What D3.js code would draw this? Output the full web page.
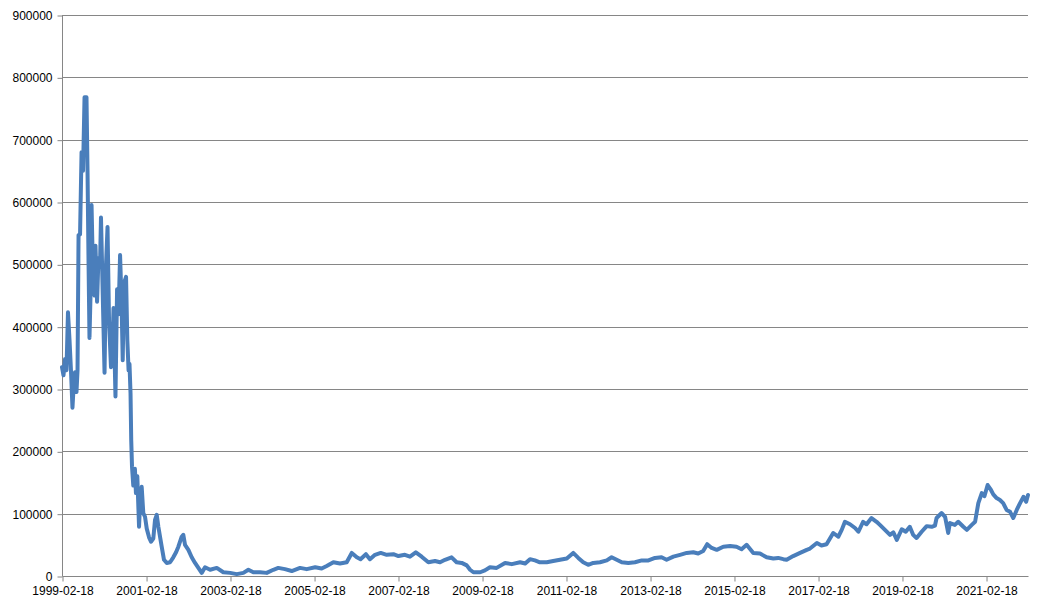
<!DOCTYPE html>
<html>
<head>
<meta charset="utf-8">
<script src="https://cdn.jsdelivr.net/npm/d3@7"></script>
<style>
  html, body { margin: 0; padding: 0; background: #fff; }
  svg { display: block; }
</style>
</head>
<body>
<svg id="chart" width="1044" height="610"></svg>
<script>
const dates = [
  "1999-02-18","1999-03-03","1999-03-16","1999-03-29","1999-04-11","1999-04-24","1999-05-07","1999-05-20","1999-05-29","1999-06-11",
  "1999-06-24","1999-07-03","1999-07-12","1999-07-25","1999-08-07","1999-08-20","1999-09-02","1999-09-19","1999-09-28","1999-10-07",
  "1999-10-15","1999-10-24","1999-11-02","1999-11-15","1999-11-28","1999-12-06","1999-12-20","2000-01-01","2000-01-15","2000-01-23",
  "2000-02-10","2000-02-23","2000-03-07","2000-03-20","2000-04-02","2000-04-19","2000-04-28","2000-05-11","2000-05-28","2000-06-11",
  "2000-06-24","2000-07-07","2000-07-20","2000-07-30","2000-08-10","2000-08-28","2000-09-08","2000-09-19","2000-09-27","2000-10-06",
  "2000-10-12","2000-10-19","2000-10-30","2000-11-13","2000-11-22","2000-12-04","2000-12-19","2000-12-28","2001-01-11","2001-01-25",
  "2001-02-09","2001-02-24","2001-03-16","2001-04-02","2001-04-22","2001-05-07","2001-05-22","2001-06-05","2001-07-04","2001-07-24",
  "2001-08-17","2001-09-15","2001-10-13","2001-11-06","2001-11-26","2001-12-25","2002-01-08","2002-01-23","2002-02-21","2002-03-22",
  "2002-04-20","2002-05-19","2002-06-17","2002-07-16","2002-08-29","2002-10-26","2002-12-22","2003-02-19","2003-04-18","2003-06-14",
  "2003-07-28","2003-09-09","2003-11-06","2004-01-03","2004-03-01","2004-04-13","2004-06-10","2004-08-08","2004-10-19","2004-12-16",
  "2005-02-28","2005-04-25","2005-06-08","2005-08-05","2005-10-02","2005-11-29","2006-01-12","2006-02-25","2006-03-29","2006-05-15",
  "2006-06-19","2006-08-02","2006-09-21","2006-11-12","2007-01-09","2007-02-22","2007-04-19","2007-06-02","2007-07-23","2007-09-12",
  "2007-11-09","2008-01-06","2008-02-19","2008-04-02","2008-05-29","2008-07-12","2008-08-25","2008-10-08","2008-11-06","2008-12-05",
  "2009-02-02","2009-03-15","2009-04-28","2009-06-25","2009-09-06","2009-11-04","2010-01-15","2010-02-28","2010-04-11","2010-05-24",
  "2010-07-06","2010-09-04","2010-10-30","2010-12-28","2011-02-25","2011-04-22","2011-06-05","2011-07-18","2011-08-30","2011-10-13",
  "2011-12-11","2012-02-08","2012-03-21","2012-05-04","2012-06-17","2012-08-13","2012-10-10","2012-12-08","2013-02-04","2013-04-02",
  "2013-05-29","2013-07-12","2013-09-09","2013-11-06","2014-01-03","2014-03-01","2014-04-13","2014-05-26","2014-06-30","2014-08-08",
  "2014-09-21","2014-11-17","2015-01-15","2015-03-12","2015-04-25","2015-06-08","2015-08-05","2015-10-02","2015-11-29","2016-01-26",
  "2016-03-09","2016-04-22","2016-05-21","2016-07-17","2016-09-15","2016-11-12","2016-12-10","2017-02-08","2017-03-20","2017-05-03",
  "2017-06-30","2017-08-13","2017-09-12","2017-10-10","2017-11-23","2018-01-06","2018-02-04","2018-03-17","2018-04-16","2018-05-29",
  "2018-07-12","2018-08-10","2018-09-23","2018-11-06","2018-12-05","2019-01-04","2019-02-16","2019-03-23","2019-04-27","2019-05-26",
  "2019-06-25","2019-08-08","2019-09-21","2019-11-03","2019-12-02","2019-12-16","2020-01-29","2020-02-28","2020-03-26","2020-04-10",
  "2020-05-23","2020-06-21","2020-08-05","2020-09-04","2020-10-17","2020-11-15","2020-12-13","2021-01-12","2021-02-04","2021-03-04",
  "2021-04-02","2021-04-22","2021-05-21","2021-06-19","2021-07-17","2021-08-16","2021-09-15","2021-10-13","2021-11-12","2021-12-11",
  "2022-01-09","2022-02-02","2022-02-18"
];
const values = [
  335000,322000,348000,330000,423000,380000,330000,270000,300000,327000,
  295000,330000,547000,548000,680000,650000,768000,768000,650000,500000,
  382000,450000,595000,480000,450000,530000,440000,510000,500000,575000,
  430000,326000,500000,560000,410000,335000,340000,430000,288000,460000,
  420000,515000,440000,346000,470000,480000,379000,330000,340000,293000,
  218000,175000,145000,172000,133000,160000,79000,117000,143000,101000,
  95000,76000,62000,55000,60000,90000,98000,79000,47000,26000,
  21000,22000,30000,38000,47000,63000,66000,50000,42000,30000,
  21000,13000,5000,14000,10000,13000,6000,5000,3000,5000,
  10000,6000,6000,5000,10000,13000,11000,8000,13000,11000,
  14000,12000,16000,22000,20000,22000,37000,30000,27000,35000,
  27000,34000,37000,34000,35000,32000,34000,31000,38000,31000,
  22000,24000,22000,26000,30000,22000,21000,17000,10000,6000,
  6000,9000,14000,13000,21000,19000,22000,20000,27000,25000,
  22000,22000,24000,26000,28000,37000,29000,22000,18000,21000,
  22000,25000,30000,26000,22000,21000,22000,25000,25000,29000,
  30000,26000,31000,34000,37000,38000,36000,40000,51000,45000,
  42000,47000,48000,47000,43000,50000,37000,36000,30000,28000,
  29000,27000,26000,32000,37000,42000,44000,53000,49000,51000,
  69000,63000,74000,87000,83000,77000,71000,87000,83000,93000,
  87000,82000,74000,66000,70000,58000,75000,71000,79000,66000,
  61000,71000,80000,79000,81000,93000,101000,95000,69000,85000,
  82000,87000,79000,74000,82000,87000,117000,133000,128000,146000,
  138000,131000,125000,122000,117000,106000,103000,93000,106000,117000,
  127000,119000,130000
];
const xTickLabels = ["1999-02-18","2001-02-18","2003-02-18","2005-02-18","2007-02-18","2009-02-18",
                     "2011-02-18","2013-02-18","2015-02-18","2017-02-18","2019-02-18","2021-02-18"];
const yTicks = [0,100000,200000,300000,400000,500000,600000,700000,800000,900000];
const xDomain = ["1999-02-18","2022-02-18"];

const parse = d3.utcParse("%Y-%m-%d");
const data = dates.map((d, i) => ({ date: parse(d), value: values[i] }));

const margin = { left: 62, right: 1028, top: 15, bottom: 576 };
const svg = d3.select("#chart");

const x = d3.scaleUtc().domain(xDomain.map(parse)).range([margin.left, margin.right]);
const y = d3.scaleLinear().domain([0, 900000]).range([margin.bottom, margin.top]);

const gridColor = "#868686";
const font = "'Liberation Sans', Arial, sans-serif";

// gridlines
svg.append("g").selectAll("line").data(yTicks.filter(t => t > 0)).join("line")
  .attr("x1", margin.left).attr("x2", margin.right)
  .attr("y1", d => Math.round(y(d)) + 0.5).attr("y2", d => Math.round(y(d)) + 0.5)
  .attr("stroke", gridColor).attr("stroke-width", 1);

// y axis
const yAxis = d3.axisLeft(y).tickValues(yTicks).tickSize(5).tickPadding(5).tickFormat(d3.format("d"));
const gy = svg.append("g").attr("transform", `translate(${margin.left + 0.5},0.5)`).call(yAxis);
gy.select(".domain").attr("stroke", gridColor).attr("d", `M0,${margin.top}V${margin.bottom}`);
gy.selectAll(".tick line").attr("stroke", gridColor);
gy.selectAll(".tick text").attr("font-family", font).attr("font-size", 12).attr("fill", "#000");

// x axis
const xAxis = d3.axisBottom(x).tickValues(xTickLabels.map(parse)).tickSize(5).tickPadding(5)
  .tickFormat(d3.utcFormat("%Y-%m-%d"));
const gx = svg.append("g").attr("transform", `translate(0.5,${margin.bottom + 0.5})`).call(xAxis);
gx.select(".domain").attr("stroke", gridColor).attr("d", `M${margin.left},0H${margin.right}`);
gx.selectAll(".tick line").attr("stroke", gridColor);
gx.selectAll(".tick text").attr("font-family", font).attr("font-size", 12).attr("fill", "#000");

// line
const line = d3.line().x(d => x(d.date)).y(d => y(d.value)).curve(d3.curveLinear);
svg.append("path").datum(data)
  .attr("d", line)
  .attr("fill", "none")
  .attr("stroke", "#4A7EBB")
  .attr("stroke-width", 4)
  .attr("stroke-linejoin", "round")
  .attr("stroke-linecap", "round");
</script>
</body>
</html>
